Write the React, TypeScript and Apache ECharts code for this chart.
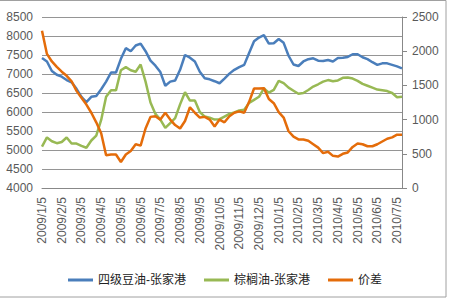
import React, { useEffect, useRef } from "react";
import * as echarts from "echarts";

const months: string[] = [
  "2009/1", "2009/2", "2009/3", "2009/4", "2009/5", "2009/6", "2009/7", "2009/8", "2009/9",
  "2009/10", "2009/11", "2009/12", "2010/1", "2010/2", "2010/3", "2010/4", "2010/5", "2010/6", "2010/7",
];
const weekDays: string[] = ["5", "12", "19", "26"];

const soyOil: number[] = [
  7420, 7330, 7080, 6980, 6930, 6840, 6780, 6610, 6400, 6260, 6400, 6420,
  6600, 6800, 7040, 7040, 7400, 7680, 7600, 7750, 7800, 7600, 7350, 7220,
  7050, 6690, 6800, 6830, 7110, 7500, 7430, 7330, 7060, 6890, 6860, 6810,
  6756, 6880, 7010, 7110, 7180, 7240, 7550, 7860, 7960, 8020, 7800, 7810,
  7920, 7820, 7480, 7250, 7210, 7330, 7390, 7414, 7350, 7340, 7370, 7330,
  7420, 7430, 7450, 7520, 7520, 7440, 7390, 7310, 7240, 7280, 7280, 7240,
  7200, 7150,
];
const palmOil: number[] = [
  5090, 5330, 5230, 5180, 5210, 5330, 5170, 5170, 5110, 5060, 5250, 5380,
  5790, 6400, 6570, 6570, 7100, 7180, 7100, 7060, 7250, 6800, 6250, 5950,
  5800, 5580, 5710, 5840, 6200, 6520, 6300, 6300, 6000, 5880, 5850, 5800,
  5810, 5880, 5950, 5990, 6040, 6060, 6240, 6320, 6400, 6620, 6510, 6580,
  6820, 6760, 6640, 6560, 6480, 6500, 6580, 6670, 6730, 6800, 6840, 6810,
  6830, 6900, 6910, 6880, 6820, 6740, 6690, 6640, 6590, 6570, 6550, 6500,
  6390, 6400,
];
const spread: number[] = [
  2300, 1960, 1850, 1770, 1700, 1640, 1560, 1420, 1320, 1220, 1100, 960,
  800, 480, 490, 490, 380, 490, 540, 640, 620, 870, 1040, 1050,
  1000, 1100, 1000, 920, 870, 980, 1180, 1100, 1030, 1040, 1000, 900,
  1000, 960, 1050, 1100, 1120, 1100, 1260, 1455, 1455, 1460, 1300, 1240,
  1110, 1030, 830, 750, 710, 710, 690, 640, 590, 510, 530, 470,
  460, 500, 520, 600, 650, 640, 610, 610, 640, 680, 720, 740,
  780, 780,
];

const seriesNames: string[] = ["四级豆油-张家港", "棕榈油-张家港", "价差"];
const seriesColors: string[] = ["#4A7EBB", "#98B954", "#E46C0A"];

const categories: string[] = [];
months.forEach((m) => weekDays.forEach((d) => categories.push(`${m}/${d}`)));
const cats = categories.slice(0, soyOil.length);

const FONT = "'Liberation Sans', Arial, 'Noto Sans CJK SC', sans-serif";
const plain = (v: number) => String(v);

export default function App() {
  const ref = useRef<HTMLDivElement>(null);
  useEffect(() => {
    if (!ref.current) return;
    const chart = echarts.init(ref.current, undefined, { renderer: "svg" });
    chart.setOption({
      animation: false,
      backgroundColor: "#ffffff",
      textStyle: { fontFamily: FONT },
      grid: { left: 42, right: 48, top: 17, bottom: 112, containLabel: false },
      legend: {
        data: seriesNames,
        bottom: 9,
        left: "center",
        icon: "rect",
        itemWidth: 25,
        itemHeight: 3,
        itemGap: 18,
        textStyle: { fontSize: 12, color: "#222", fontFamily: FONT },
      },
      graphic: [
        {
          type: "rect",
          shape: { x: -1, y: 0.5, width: 447, height: 296.5 },
          style: { fill: "none", stroke: "#a0a0a0", lineWidth: 1 },
          silent: true,
        },
      ],
      xAxis: {
        type: "category",
        data: cats,
        boundaryGap: false,
        axisLine: { show: true, lineStyle: { color: "#888", width: 1 } },
        axisTick: { show: false },
        axisLabel: {
          interval: 3,
          rotate: 90,
          fontSize: 12,
          color: "#595959",
          margin: 9,
          fontFamily: FONT,
        },
        splitLine: { show: false },
      },
      yAxis: [
        {
          type: "value",
          min: 4000,
          max: 8500,
          interval: 500,
          axisLine: { show: false },
          axisTick: { show: false },
          axisLabel: { fontSize: 12, color: "#595959", margin: 9, fontFamily: FONT, formatter: plain },
          splitLine: { show: true, lineStyle: { color: "#959595", width: 1 } },
        },
        {
          type: "value",
          min: 0,
          max: 2500,
          interval: 500,
          position: "right",
          axisLine: { show: true, lineStyle: { color: "#888", width: 1 } },
          axisTick: { show: true, length: 5, lineStyle: { color: "#888" } },
          axisLabel: { fontSize: 12, color: "#595959", margin: 10, fontFamily: FONT, formatter: plain },
          splitLine: { show: false },
        },
      ],
      series: [
        {
          name: seriesNames[0],
          type: "line",
          data: soyOil,
          yAxisIndex: 0,
          showSymbol: false,
          symbol: "none",
          lineStyle: { color: seriesColors[0], width: 2.5 },
          itemStyle: { color: seriesColors[0] },
        },
        {
          name: seriesNames[1],
          type: "line",
          data: palmOil,
          yAxisIndex: 0,
          showSymbol: false,
          symbol: "none",
          lineStyle: { color: seriesColors[1], width: 2.5 },
          itemStyle: { color: seriesColors[1] },
        },
        {
          name: seriesNames[2],
          type: "line",
          data: spread,
          yAxisIndex: 1,
          showSymbol: false,
          symbol: "none",
          lineStyle: { color: seriesColors[2], width: 2.5 },
          itemStyle: { color: seriesColors[2] },
        },
      ],
    });
    return () => chart.dispose();
  }, []);
  return (
    <div
      ref={ref}
      style={{ position: "fixed", left: 0, top: 0, width: 450, height: 300 }}
    />
  );
}
